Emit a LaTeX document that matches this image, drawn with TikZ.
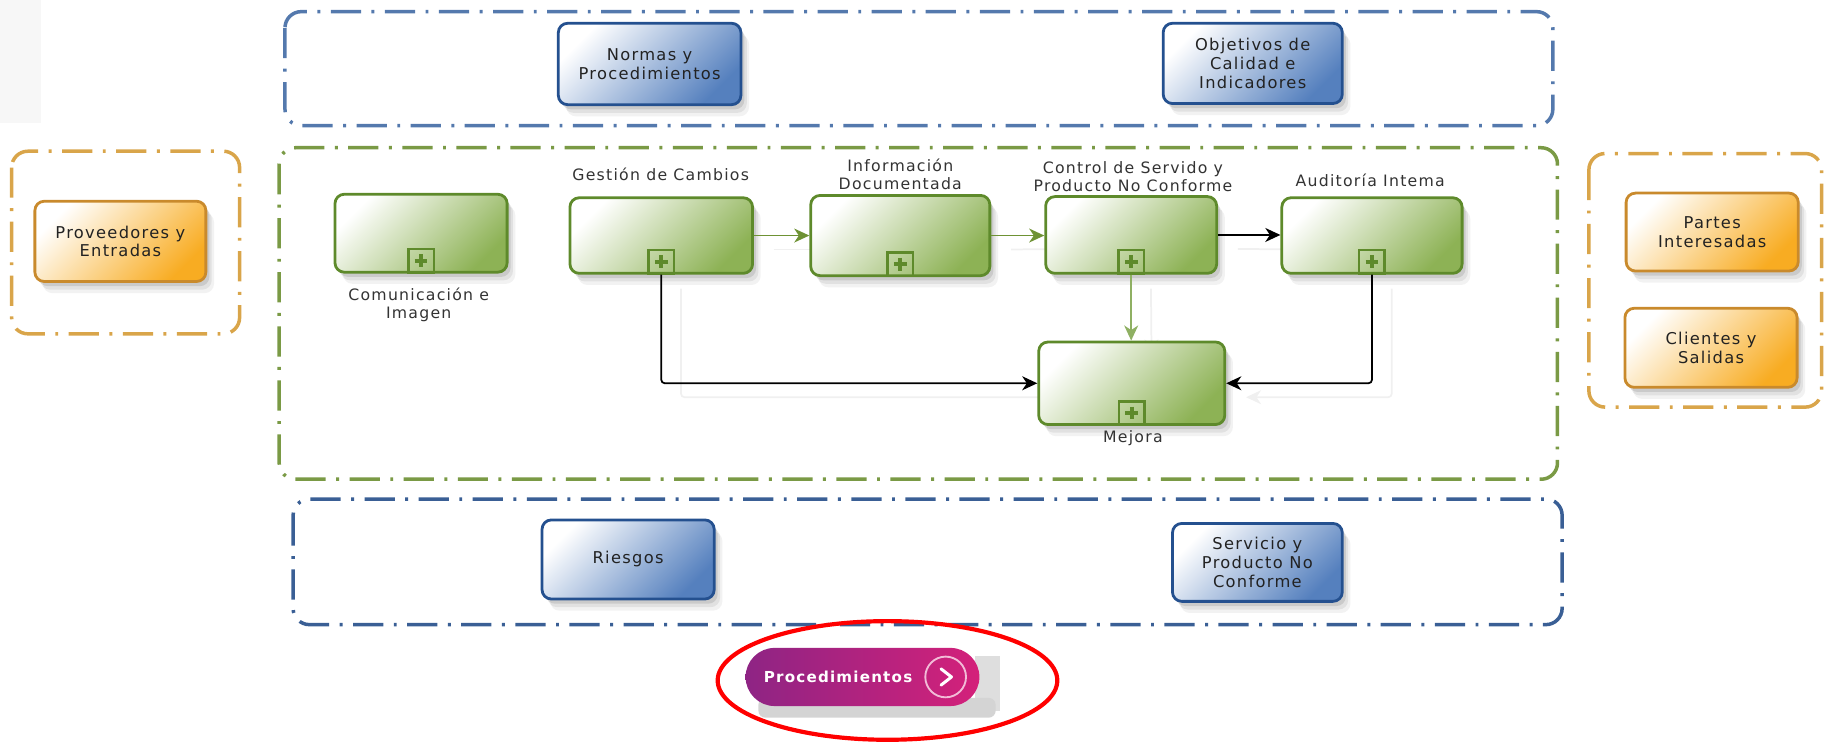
\documentclass[tikz,border=0pt]{standalone}
\usepackage{fontspec}
\setmainfont{DejaVu Sans}
\newfontfamily\lblfont[LetterSpace=8]{DejaVu Sans}
\usetikzlibrary{arrows.meta,shadows,calc,shapes.geometric}
\pgfdeclarelayer{bg}
\pgfsetlayers{bg,main}
\definecolor{bluC}{HTML}{5479AD}
\definecolor{bluC2}{HTML}{3A5F95}
\definecolor{bluB}{HTML}{24508F}
\definecolor{bluF}{HTML}{5580BE}
\definecolor{grnC}{HTML}{7A9A45}
\definecolor{grnB}{HTML}{5E8A2B}
\definecolor{grnF}{HTML}{8DB255}
\definecolor{grnA}{HTML}{6E9234}
\definecolor{grnL}{HTML}{8FB063}
\definecolor{orgC}{HTML}{D9A54A}
\definecolor{orgB}{HTML}{C98A2C}
\definecolor{orgF}{HTML}{F8AC22}
\definecolor{purA}{HTML}{8E2484}
\definecolor{purB}{HTML}{D4217A}
\definecolor{txt}{HTML}{222222}
\definecolor{lbltxt}{HTML}{333333}
\tikzset{
  cont/.style={line width=3pt, rounded corners=14pt, dash pattern=on 26pt off 9pt on 2.5pt off 9pt},
  softshadow/.style={
    drop shadow={shadow xshift=3pt,shadow yshift=-4pt,opacity=.10,fill=black},
    drop shadow={shadow xshift=5pt,shadow yshift=-7pt,opacity=.07,fill=black},
    drop shadow={shadow xshift=7pt,shadow yshift=-10pt,opacity=.05,fill=black}},
  boxbase/.style={rectangle, rounded corners=8pt, line width=2.4pt, align=center,
    text=txt, font=\lblfont\fontsize{14}{16}\selectfont, inner sep=2pt, softshadow},
  bluebox/.style={boxbase, draw=bluB, top color=white, bottom color=bluF, shading angle=45},
  grnbox/.style={boxbase, draw=grnB, top color=white, bottom color=grnF, shading angle=45},
  orgbox/.style={boxbase, draw=orgB, top color=white, bottom color=orgF, shading angle=45},
  pmarker/.style={rectangle, draw=grnB, line width=2.2pt, minimum width=22pt, minimum height=20pt, inner sep=0pt},
  plusst/.style={draw=grnB, line width=3.6pt},
  lbl/.style={font=\lblfont\fontsize{13.5}{15.5}\selectfont, text=lbltxt, align=center, inner sep=0pt},
  tipst/.style={-{Stealth[length=13pt,width=12pt,inset=4pt]}},
  blk/.style={tipst, draw=black, line width=1.5pt, rounded corners=3pt},
  grn/.style={tipst, draw=grnA, fill=grnA, line width=1.5pt},
  grnlight/.style={tipst, draw=grnL, line width=1.8pt},
  ghost/.style={tipst, draw=black!6, line width=1.5pt, rounded corners=3pt},
  btnshape/.style={rectangle, rounded corners=25pt, minimum width=201pt, minimum height=50pt,
    left color=purA, right color=purB, inner sep=0pt},
  btntxt/.style={font=\lblfont\bfseries\fontsize{13}{15}\selectfont, text=white, inner sep=0pt},
}
\newcommand\plusbox[2]{%
  \node[pmarker, anchor=south] (#1) at (#2.south) {};
  \draw[plusst] ($(#1.center)+(-5.5,0)$) -- ($(#1.center)+(5.5,0)$);
  \draw[plusst] ($(#1.center)+(0,-5.5)$) -- ($(#1.center)+(0,5.5)$);
}
\begin{document}
\begin{tikzpicture}[x=1pt,y=-1pt]
\useasboundingbox (0,0) rectangle (1569,638);
\fill[black!3] (0,0) rectangle (35,106);
% containers
\draw[cont, draw=bluC] (245,10) rectangle (1335,108);
\draw[cont, draw=grnC] (240,127) rectangle (1339,412);
\draw[cont, draw=orgC] (10,130) rectangle (206,287);
\draw[cont, draw=orgC] (1366,132) rectangle (1566,350);
\draw[cont, draw=bluC2] (252,429) rectangle (1343,537);
% blue boxes
\node[bluebox, minimum width=157pt, minimum height=70pt] (norm) at (558.5,55) {Normas y\\Procedimientos};
\node[bluebox, minimum width=154pt, minimum height=69pt] (obj) at (1077,54.5) {Objetivos de\\Calidad e\\Indicadores};
\node[bluebox, minimum width=148pt, minimum height=68pt] (ries) at (540,481) {Riesgos};
\node[bluebox, minimum width=146pt, minimum height=67pt] (serv) at (1081,483.5) {Servicio y\\Producto No\\Conforme};
% orange boxes
\node[orgbox, minimum width=147pt, minimum height=69pt] (prov) at (103.5,207.5) {Proveedores y\\Entradas};
\node[orgbox, minimum width=148pt, minimum height=67pt] (partes) at (1472,199.5) {Partes\\Interesadas};
\node[orgbox, minimum width=148pt, minimum height=68pt] (clien) at (1471,299) {Clientes y\\Salidas};
% green boxes
\node[grnbox, minimum width=148pt, minimum height=67pt] (com) at (362,200.5) {};
\node[grnbox, minimum width=157pt, minimum height=65pt] (gest) at (568.5,202.5) {};
\node[grnbox, minimum width=154pt, minimum height=69pt] (info) at (774,202.5) {};
\node[grnbox, minimum width=147pt, minimum height=66pt] (ctrl) at (972.5,202) {};
\node[grnbox, minimum width=155pt, minimum height=65pt] (aud) at (1179.5,202.5) {};
\node[grnbox, minimum width=160pt, minimum height=71pt] (mej) at (973,329.5) {};
\plusbox{cmk}{com}
\plusbox{gmk}{gest}
\plusbox{imk}{info}
\plusbox{kmk}{ctrl}
\plusbox{amk}{aud}
\plusbox{mmk}{mej}
% labels
\node[lbl] (gestl) at (568,150) {Gestión de Cambios};
\node[lbl] (infol) at (774,150) {Información\\Documentada};
\node[lbl] (ctrll) at (974,152) {Control de Servido y\\Producto No Conforme};
\node[lbl] (audl) at (1178,155) {Auditoría Intema};
\node[lbl] (coml) at (360,262) {Comunicación e\\Imagen};
\node[lbl] (mejl) at (974,377) {Mejora};
% connectors
\draw[grn] (gest.east) -- (info.west);
\draw[grn] (info.east) -- (info.east -| ctrl.west);
\draw[blk] (ctrl.east) -- (ctrl.east -| aud.west);
\draw[grnlight] (kmk.south) -- (kmk.south |- mej.north);
\draw[blk] (gmk.south) |- (mej.west);
\draw[blk] (amk.south) |- (mej.east);
% faint connector shadows
\begin{pgfonlayer}{bg}
\draw[ghost] ($(gest.east)+(17,12)$) -- ($(info.west)+(17,12)$);
\draw[ghost] ($(info.east)+(17,12)$) -- ($(ctrl.west)+(17,12)$);
\draw[ghost] ($(ctrl.east)+(17,12)$) -- ($(aud.west)+(17,12)$);
\draw[ghost] ($(kmk.south)+(17,12)$) -- ($(mej.north)+(17,12)$);
\draw[ghost] ($(gmk.south)+(17,12)$) |- ($(mej.west)+(17,12)$);
\draw[ghost] ($(amk.south)+(17,12)$) |- ($(mej.east)+(17,12)$);
\end{pgfonlayer}
% button
\fill[black!13] (838,564) rectangle (860,611);
\fill[black!17, rounded corners=6pt] (652,600) rectangle (856,617);
\node[btnshape] (btn) at (741.5,582) {};
\node[btntxt] (btnl) at (720.5,582) {Procedimientos};
\node[circle, draw=white!70!purB, line width=1.6pt, minimum size=35pt, inner sep=0pt] (btnc) at (813,582) {};
\draw[white, line width=2.6pt, line cap=round, line join=round]
  ($(btnc.center)+(-4,-7)$) -- ($(btnc.center)+(5,0)$) -- ($(btnc.center)+(-4,7)$);
% highlight
\node[ellipse, draw=red, line width=3.6pt, minimum width=292pt, minimum height=102pt, inner sep=0pt] (hl) at (763,585) {};
\end{tikzpicture}
\end{document}
